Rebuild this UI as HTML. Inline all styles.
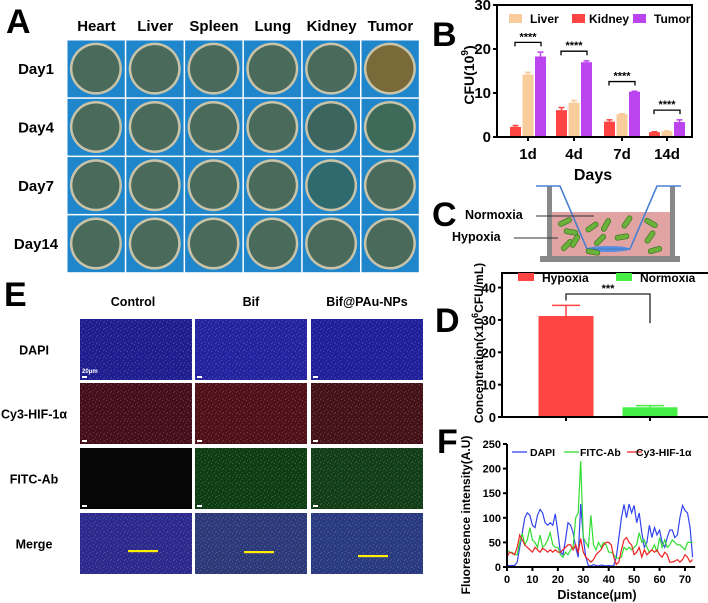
<!DOCTYPE html>
<html><head><meta charset="utf-8">
<style>
html,body{margin:0;padding:0;background:#fff;}
svg{display:block;font-family:"Liberation Sans",Arial,sans-serif;font-weight:bold;}
</style></head>
<body>
<svg id="fig" width="708" height="603" viewBox="0 0 708 603" xmlns="http://www.w3.org/2000/svg">
<g id="panelA"></g>
<g id="panelB"></g>
<g id="panelC"></g>
<g id="panelD"></g>
<g id="panelE"></g>
<g id="panelF"></g>
</svg>
<script>
// ---- Panel B data ----
const bDays = ["1d","4d","7d","14d"];
const bKidney = [2.3,6.1,3.5,1.1];
const bKidneyErr = [0.3,0.6,0.4,0.1];
const bLiver = [14.2,7.8,5.2,1.3];
const bLiverErr = [0.5,0.5,0.1,0.1];
const bTumor = [18.3,17.0,10.3,3.4];
const bTumorErr = [1.0,0.3,0.1,0.5];
const bTicks = [0,10,20,30];
// ---- Panel D data ----
const dGroups = ["Hypoxia","Normoxia"];
const dValues = [31.2,3.0];
const dErr = [3.3,0.5];
const dTicks = [0,10,20,30,40];
// ---- Panel F data ----
const fX = [];
for (let i=0;i<=73;i++) fX.push(i);
const fDapi = [3,3,3,3,10,40,70,100,110,105,85,80,105,117,110,90,85,90,85,108,70,30,25,55,90,85,70,40,20,128,60,20,3,2,5,3,2,4,3,2,3,2,3,20,60,100,127,100,128,110,125,90,110,70,40,50,85,60,80,65,75,50,40,60,75,75,60,65,100,125,115,110,80,20];
const fFitc = [35,30,30,25,25,50,68,45,55,80,55,50,40,65,40,45,55,70,45,40,40,25,20,30,25,35,40,100,110,215,60,50,40,105,45,35,50,40,50,45,30,30,25,18,18,20,40,35,40,35,40,45,70,50,55,40,30,35,45,30,60,40,55,40,45,55,50,45,45,40,35,50,50,50];
const fCy3 = [20,30,28,25,40,65,55,45,40,35,30,40,35,30,38,35,30,35,30,35,30,30,35,40,45,45,35,45,30,58,30,20,15,10,15,25,30,35,45,50,50,45,20,5,10,35,55,60,50,45,25,30,40,20,35,25,30,35,30,35,25,20,30,25,10,10,12,15,10,15,25,20,10,15];
const fXTicks = [0,10,20,30,40,50,60,70];
const fYTicks = [0,50,100,150,200,250];
// ---- Panel A data ----
const aOrgans = ["Heart","Liver","Spleen","Lung","Kidney","Tumor"];
const aDays = ["Day1","Day4","Day7","Day14"];
// ---- Panel E ----
const eCols = ["Control","Bif","Bif@PAu-NPs"];
const eRows = ["DAPI","Cy3-HIF-1α","FITC-Ab","Merge"];

const NS="http://www.w3.org/2000/svg";
function mk(parent,tag,attrs,text){const e=document.createElementNS(NS,tag);for(const k in attrs)e.setAttribute(k,attrs[k]);if(text!==undefined)e.textContent=text;parent.appendChild(e);return e;}

// ===== Panel A =====
(function(){
const g=document.getElementById('panelA');
let t=mk(g,'text',{x:6,y:33,'font-size':34},'A');


const x0=67,y0=40,cw=58.8,ch=58.3;
aOrgans.forEach((o,i)=>{let l=mk(g,'text',{x:x0+cw*i+cw/2,y:31,'font-size':15,'text-anchor':'middle'},o);

});
aDays.forEach((d,j)=>{let l=mk(g,'text',{x:36,y:y0+ch*j+ch/2+5,'font-size':15,'text-anchor':'middle'},d);

});
const tint={"0,5":"#7a6a3a","1,5":"#3e6a5a","1,4":"#3d6560","2,4":"#2f6a6e"};
for(let j=0;j<4;j++)for(let i=0;i<6;i++){
const cx=x0+cw*i,cy=y0+ch*j;
let r=mk(g,'rect',{x:cx+0.5,y:cy+0.5,width:cw-1.5,height:ch-1.5,fill:'#1f86cc'});


mk(g,'circle',{cx:cx+cw/2-0.5,cy:cy+ch/2-0.5,r:26,fill:'#c9c4a8'});
mk(g,'circle',{cx:cx+cw/2-0.5,cy:cy+ch/2-0.5,r:23.5,fill:tint[j+","+i]||'#4a6a5c'});
}
})();

// ===== Panel B =====
(function(){
const g=document.getElementById('panelB');
const L=497,R=692,T=5,B=137,ymax=30;
const y=v=>B-(v/ymax)*(B-T);
const cx=[528,574,622,667];
let t=mk(g,'text',{x:432,y:46,'font-size':34},'B');


const series=[[bKidney,bKidneyErr,'#ff4444',-12.5],[bLiver,bLiverErr,'#f9cc9c',0],[bTumor,bTumorErr,'#bb44ee',12.5]];
series.forEach(([vals,errs,col,off])=>{
vals.forEach((v,i)=>{
const xc=cx[i]+off;
mk(g,'line',{x1:xc,x2:xc,y1:y(v),y2:y(v+errs[i]),stroke:col,'stroke-width':1.5});
mk(g,'line',{x1:xc-3,x2:xc+3,y1:y(v+errs[i]),y2:y(v+errs[i]),stroke:col,'stroke-width':1.5});
let b=mk(g,'rect',{x:xc-5.5,y:y(v),width:11,height:B-y(v),fill:col});


});});
bDays.forEach((d,i)=>{
const top=Math.max(bTumor[i]+bTumorErr[i],bLiver[i])+2.2;
const yy=y(top),x1=cx[i]-13,x2=cx[i]+13;
mk(g,'path',{d:`M${x1} ${yy+4}V${yy}H${x2}V${yy+4}`,fill:'none',stroke:'#000','stroke-width':1.3});
mk(g,'text',{x:cx[i],y:yy-2,'font-size':11,'text-anchor':'middle'},'****');
});
mk(g,'path',{d:`M${L} ${T}V${B}H${R}V${T}H${L}`,fill:'none',stroke:'#000','stroke-width':2});
bTicks.forEach(v=>{mk(g,'line',{x1:L-4,x2:L,y1:y(v),y2:y(v),stroke:'#000','stroke-width':2});
mk(g,'text',{x:L-6,y:y(v)+5,'font-size':15,'text-anchor':'end'},v);});
bDays.forEach((d,i)=>{mk(g,'line',{x1:cx[i],x2:cx[i],y1:B,y2:B+4,stroke:'#000','stroke-width':2});
mk(g,'text',{x:cx[i],y:B+22,'font-size':15,'text-anchor':'middle'},d);});
let xl=mk(g,'text',{x:593,y:180,'font-size':16,'text-anchor':'middle'},'Days');


let yl=mk(g,'text',{x:0,y:0,'font-size':14,'text-anchor':'middle',transform:'translate(474,75) rotate(-90)'});


yl.innerHTML='CFU(10<tspan dy="-6" font-size="10">9</tspan><tspan dy="6">)</tspan>';
[['Liver','#f9cc9c',509],['Kidney','#ff4444',572],['Tumor','#bb44ee',633]].forEach(([n,c,x])=>{
let r=mk(g,'rect',{x:x,y:14,width:13,height:9,fill:c});


mk(g,'text',{x:x+(n==='Kidney'?17:21),y:23,'font-size':12},n);});
})();

// ===== Panel C =====
(function(){
const g=document.getElementById('panelC');
let t=mk(g,'text',{x:432,y:226,'font-size':34},'C');


mk(g,'rect',{x:552,y:212,width:118,height:44,fill:'#e2a3a3'});
mk(g,'rect',{x:547,y:186,width:5,height:74,fill:'#888'});
mk(g,'rect',{x:670,y:186,width:5,height:74,fill:'#888'});
mk(g,'rect',{x:540,y:256,width:140,height:6,fill:'#888'});
mk(g,'ellipse',{cx:608,cy:249,rx:22,ry:3,fill:'#5a8ee0'});
mk(g,'path',{d:'M536 186H560L587 249H630L657 186H681',fill:'none',stroke:'#4a80d0','stroke-width':1.6});
[[565,222,-25],[571,232,10],[567,245,-45],[575,241,-60],[592,227,-35],[606,225,-60],[627,222,-55],[600,240,-45],[622,237,-10],[651,223,30],[650,237,-55],[655,250,-15],[593,252,10]].forEach(([x,y,a])=>{
mk(g,'rect',{x:x-7,y:y-2.5,width:14,height:5,rx:2.5,fill:'#6ab23a',stroke:'#2d6a1a','stroke-width':0.6,transform:`rotate(${a} ${x} ${y})`});});
let n=mk(g,'text',{x:465,y:219,'font-size':12.5},'Normoxia');


mk(g,'line',{x1:536,x2:594,y1:216,y2:216,stroke:'#333','stroke-width':1});
let h=mk(g,'text',{x:452,y:241,'font-size':12.5},'Hypoxia');


mk(g,'line',{x1:514,x2:558,y1:238,y2:238,stroke:'#333','stroke-width':1});
})();

// ===== Panel D =====
(function(){
const g=document.getElementById('panelD');
const L=502,R=708,T=273,B=417,ymax=44.5;
const y=v=>B-(v/ymax)*(B-T);
const cx=[566,650],cols=['#ff4444','#44ee44'];
let t=mk(g,'text',{x:435,y:332,'font-size':34},'D');


dValues.forEach((v,i)=>{
mk(g,'line',{x1:cx[i],x2:cx[i],y1:y(v),y2:y(v+dErr[i]),stroke:cols[i],'stroke-width':1.5});
mk(g,'line',{x1:cx[i]-14,x2:cx[i]+14,y1:y(v+dErr[i]),y2:y(v+dErr[i]),stroke:cols[i],'stroke-width':1.5});
let b=mk(g,'rect',{x:cx[i]-27.5,y:y(v),width:55,height:B-y(v),fill:cols[i]});


});
mk(g,'path',{d:`M566 ${y(36)}V${y(38)}H650V${y(29)}`,fill:'none',stroke:'#222','stroke-width':1.3});
mk(g,'text',{x:608,y:y(38)-2,'font-size':11,'text-anchor':'middle'},'***');
mk(g,'path',{d:`M${R} ${T}H${L}V${B}H${R}`,fill:'none',stroke:'#000','stroke-width':2});
dTicks.forEach(v=>{mk(g,'line',{x1:L-4,x2:L,y1:y(v),y2:y(v),stroke:'#000','stroke-width':2});
mk(g,'text',{x:L-6,y:y(v)+5,'font-size':13,'text-anchor':'end'},v);});
cx.forEach(x=>mk(g,'line',{x1:x,x2:x,y1:B,y2:B+4,stroke:'#000','stroke-width':2}));
let yl=mk(g,'text',{x:0,y:0,'font-size':12,'text-anchor':'middle',transform:'translate(483,343) rotate(-90)'});


yl.innerHTML='Concentration(x10<tspan dy="-5" font-size="9">6</tspan><tspan dy="5">CFU/mL)</tspan>';
[['Hypoxia','#ff4444',518],['Normoxia','#44ee44',616]].forEach(([n,c,x])=>{
let r=mk(g,'rect',{x:x,y:273,width:16,height:8,fill:c});


mk(g,'text',{x:x+24,y:282,'font-size':12},n);});
})();

// ===== Panel E =====
(function(){
const g=document.getElementById('panelE');
let t=mk(g,'text',{x:4,y:306,'font-size':34},'E');


const xs=[80,195,311],ys=[319,383,448,513],w=112,h=61;
eCols.forEach((c,i)=>{let l=mk(g,'text',{x:xs[i]+w/2+(i===0?-3:0),y:306,'font-size':12.5,'text-anchor':'middle'},c);

});
eRows.forEach((r,j)=>{let l=mk(g,'text',{x:34,y:ys[j]+h/2+5,'font-size':12.5,'text-anchor':'middle'},r);

});
const fills=[["#1e1e90","#2424a0","#20209a"],["#45101a","#501218","#46121a"],["#060606","#103e14","#123e18"],["#2c2a8c","#2c3a7a","#2a3a80"]];
const defs=mk(g,'defs',{});
const pat=mk(defs,'pattern',{id:'speck',width:7,height:7,patternUnits:'userSpaceOnUse'});
[[1,1],[4,3],[2,5],[6,6],[5,0]].forEach(([a,b])=>mk(pat,'rect',{x:a,y:b,width:1,height:1,fill:'rgba(255,255,255,0.18)'}));
for(let j=0;j<4;j++)for(let i=0;i<3;i++){
let r=mk(g,'rect',{x:xs[i],y:ys[j],width:w,height:h,fill:fills[j][i]});


if(!(j===2&&i===0)) mk(g,'rect',{x:xs[i],y:ys[j],width:w,height:h,fill:'url(#speck)'});
if(j<3) mk(g,'rect',{x:xs[i]+2,y:ys[j]+h-4,width:5,height:2,fill:'#fff'});
}
mk(g,'text',{x:82,y:373,'font-size':6,fill:'#fff'},'20μm');
[[128,550],[244,551],[358,555]].forEach(([x,y])=>mk(g,'rect',{x:x,y:y,width:30,height:2.2,fill:'#ffee00'}));
})();

// ===== Panel F =====
(function(){
const g=document.getElementById('panelF');
const L=507,R=706,T=444,B=567,ymax=250;
const x=v=>L+(v/70)*(685-L);
const y=v=>B-(v/ymax)*(B-T);
let t=mk(g,'text',{x:437,y:453,'font-size':34},'F');


[[fDapi,'#3344ee','dapi'],[fFitc,'#33dd33','fitc-ab'],[fCy3,'#ee2222','cy3-hif']].forEach(([s,c,n])=>{
const d=s.map((v,i)=>(i?'L':'M')+x(fX[i]).toFixed(1)+' '+y(v).toFixed(1)).join('');
let p=mk(g,'path',{d:d,fill:'none',stroke:c,'stroke-width':1.2});


});
mk(g,'path',{d:`M${L} ${T}V${B}H${x(74)}`,fill:'none',stroke:'#000','stroke-width':2});
fYTicks.forEach(v=>{mk(g,'line',{x1:L-4,x2:L,y1:y(v),y2:y(v),stroke:'#000','stroke-width':2});
mk(g,'text',{x:L-6,y:y(v)+4,'font-size':11,'text-anchor':'end'},v);});
fXTicks.forEach(v=>{mk(g,'line',{x1:x(v),x2:x(v),y1:B,y2:B+4,stroke:'#000','stroke-width':2});
mk(g,'text',{x:x(v),y:B+16,'font-size':11,'text-anchor':'middle'},v);});
let xl=mk(g,'text',{x:597,y:599,'font-size':12.5,'text-anchor':'middle'},'Distance(μm)');


let yl=mk(g,'text',{x:0,y:0,'font-size':12,'text-anchor':'middle',transform:'translate(470,515) rotate(-90)'},'Fluorescence intensity(A.U)');


[['DAPI','#3344ee',512],['FITC-Ab','#33dd33',564],['Cy3-HIF-1α','#ee2222',627]].forEach(([n,c,xx])=>{
let l=mk(g,'line',{x1:xx,x2:xx+15,y1:452,y2:452,stroke:c,'stroke-width':1.3});


mk(g,'text',{x:xx+ (n==='DAPI'?18:(n==='FITC-Ab'?16:9)),y:456,'font-size':10.5},n);});
})();
</script>
</body></html>
